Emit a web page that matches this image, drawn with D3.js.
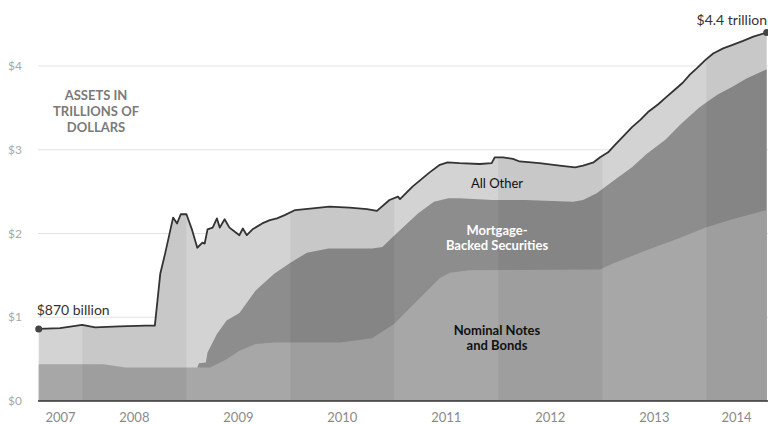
<!DOCTYPE html>
<html lang="en">

<head>
    <meta charset="UTF-8">
    <title>Fed balance sheet</title>
    <style>
        body {
            margin: 0;
            overflow: hidden;
            background: #fff;
        }

        svg {
            display: block;
        }

        text {
            font-family: Lato, "Open Sans", sans-serif;
        }
    </style>
</head>

<body>
    <svg></svg>

    <script src="https://d3js.org/d3.v7.min.js"></script>
    <script>
        // total assets (top line)
        const totalDates = ["2007-08-01", "2007-10-15", "2008-01-01", "2008-02-15", "2008-05-10", "2008-08-10",
            "2008-09-12", "2008-10-01", "2008-10-18", "2008-11-15", "2008-11-29", "2008-12-12", "2009-01-01",
            "2009-01-21", "2009-02-08", "2009-02-26", "2009-03-06", "2009-03-16", "2009-04-03", "2009-04-18",
            "2009-04-28", "2009-05-15", "2009-06-01", "2009-06-20", "2009-07-06", "2009-07-18", "2009-08-01",
            "2009-08-21", "2009-09-24", "2009-10-21", "2009-11-15", "2009-12-12", "2010-01-18", "2010-03-20",
            "2010-05-18", "2010-07-28", "2010-09-27", "2010-11-01", "2010-12-15", "2011-01-14", "2011-01-21",
            "2011-03-06", "2011-05-05", "2011-06-10", "2011-07-07", "2011-08-18", "2011-10-28", "2011-12-09",
            "2011-12-20", "2012-01-18", "2012-02-22", "2012-03-16", "2012-05-25", "2012-08-04", "2012-09-27",
            "2012-10-25", "2012-12-01", "2012-12-24", "2013-01-21", "2013-02-15", "2013-03-15", "2013-04-15",
            "2013-05-15", "2013-06-10", "2013-07-15", "2013-08-10", "2013-09-10", "2013-10-10", "2013-11-05",
            "2013-12-01", "2013-12-28", "2014-01-25", "2014-03-01", "2014-04-01", "2014-05-10", "2014-06-15",
            "2014-08-01"];
        const totalValues = [0.86, 0.87, 0.91, 0.88, 0.89, 0.90,
            0.90, 1.52, 1.76, 2.19, 2.12, 2.23, 2.23,
            2.04, 1.83, 1.89, 1.88, 2.05, 2.07, 2.18,
            2.07, 2.17, 2.07, 2.02, 1.98, 2.06, 1.98,
            2.05, 2.12, 2.16, 2.18, 2.22, 2.28, 2.30,
            2.32, 2.31, 2.29, 2.27, 2.40, 2.44, 2.41,
            2.56, 2.73, 2.82, 2.85, 2.84, 2.83, 2.84,
            2.91, 2.91, 2.89, 2.86, 2.84, 2.81, 2.79,
            2.81, 2.85, 2.91, 2.97, 3.06, 3.16, 3.27,
            3.36, 3.45, 3.54, 3.62, 3.71, 3.80, 3.90,
            3.98, 4.07, 4.15, 4.21, 4.25, 4.30, 4.35,
            4.40];

        // nominal notes and bonds + mortgage-backed securities (top of MBS layer)
        const mbsDates = ["2009-02-08", "2009-02-14", "2009-03-10", "2009-03-16", "2009-04-18", "2009-05-22",
            "2009-07-06", "2009-09-01", "2009-11-05", "2010-01-01", "2010-02-28", "2010-05-15", "2010-10-15",
            "2010-11-20", "2011-01-15", "2011-03-25", "2011-05-20", "2011-07-10", "2011-08-18", "2011-12-12",
            "2012-04-05", "2012-09-20", "2012-10-25", "2012-12-12", "2013-02-05", "2013-04-15", "2013-06-05",
            "2013-08-10", "2013-10-01", "2013-12-05", "2014-01-03", "2014-02-10", "2014-04-01", "2014-05-22",
            "2014-08-01"];
        const mbsValues = [0.40, 0.45, 0.46, 0.58, 0.80, 0.96,
            1.05, 1.32, 1.52, 1.65, 1.77, 1.82, 1.82,
            1.84, 2.02, 2.24, 2.38, 2.42, 2.42, 2.40,
            2.40, 2.38, 2.40, 2.48, 2.62, 2.79, 2.95,
            3.12, 3.30, 3.50, 3.57, 3.66, 3.75, 3.85,
            3.96];

        // nominal notes and bonds
        const nominalDates = ["2007-08-01", "2008-03-15", "2008-06-01", "2009-03-25", "2009-05-22", "2009-07-06",
            "2009-09-01", "2009-11-05", "2010-06-25", "2010-10-15", "2010-12-31", "2011-04-01", "2011-06-10",
            "2011-07-15", "2011-09-20", "2012-12-24", "2013-02-05", "2013-06-05", "2013-10-01", "2013-12-28",
            "2014-03-24", "2014-08-01"];
        const nominalValues = [0.44, 0.44, 0.40, 0.40, 0.50, 0.60,
            0.68, 0.70, 0.70, 0.75, 0.92, 1.23, 1.47,
            1.53, 1.56, 1.57, 1.64, 1.80, 1.95, 2.07,
            2.16, 2.28];

        const yTicks = [0, 1, 2, 3, 4];
        const years = [2007, 2008, 2009, 2010, 2011, 2012, 2013, 2014];

        const width = 768;
        const height = 424;
        const parse = d3.timeParse("%Y-%m-%d");

        const toPoints = (dates, values) => dates.map((d, i) => ({ date: parse(d), value: values[i] }));
        const total = toPoints(totalDates, totalValues);
        const mbs = toPoints(mbsDates, mbsValues);
        const nominal = toPoints(nominalDates, nominalValues);

        const start = parse("2007-08-01");
        const end = parse("2014-08-01");

        const x = d3.scaleTime()
            .domain([start, end])
            .range([38.7, 766.7]);

        const y = d3.scaleLinear()
            .domain([0, 4])
            .range([401, 66]);

        const svg = d3.select("svg")
            .attr("width", width)
            .attr("height", height);

        // gridlines
        svg.append("g")
            .selectAll("line")
            .data(yTicks.filter(d => d > 0))
            .join("line")
            .attr("x1", 38)
            .attr("x2", 768)
            .attr("y1", d => y(d))
            .attr("y2", d => y(d))
            .attr("stroke", "#e2e2e2")
            .attr("stroke-width", 1);

        // y tick labels
        svg.append("g")
            .selectAll("text")
            .data(yTicks)
            .join("text")
            .attr("x", 8)
            .attr("y", d => y(d))
            .attr("dy", "0.35em")
            .style("font-size", "12px")
            .style("fill", "#a8a8a8")
            .text(d => `$${d}`);

        const area = d3.area()
            .x(d => x(d.date))
            .y0(y(0))
            .y1(d => y(d.value));

        // layers painted on top of each other, from the total down
        svg.append("path")
            .datum(total)
            .attr("d", area)
            .attr("fill", "#d3d3d3");

        svg.append("path")
            .datum(mbs)
            .attr("d", area)
            .attr("fill", "#8d8d8d");

        svg.append("path")
            .datum(nominal)
            .attr("d", area)
            .attr("fill", "#a7a7a7");

        // slightly darker band on even years, only under the total
        svg.append("clipPath")
            .attr("id", "under")
            .append("path")
            .datum(total)
            .attr("d", area);

        svg.append("g")
            .attr("clip-path", "url(#under)")
            .selectAll("rect")
            .data(years.filter(d => d % 2 === 0))
            .join("rect")
            .attr("x", d => x(new Date(d, 0, 1)))
            .attr("width", d => x(new Date(d + 1, 0, 1)) - x(new Date(d, 0, 1)))
            .attr("y", 0)
            .attr("height", y(0))
            .attr("fill", "#000")
            .attr("fill-opacity", 0.05);

        // total line
        svg.append("path")
            .datum(total)
            .attr("d", d3.line().x(d => x(d.date)).y(d => y(d.value)))
            .attr("fill", "none")
            .attr("stroke", "#333")
            .attr("stroke-width", 1.8)
            .attr("stroke-linejoin", "round");

        // baseline
        svg.append("line")
            .attr("x1", 38)
            .attr("x2", 768)
            .attr("y1", y(0))
            .attr("y2", y(0))
            .attr("stroke", "#333")
            .attr("stroke-width", 1.5);

        // end dots
        const ends = [total[0], total[total.length - 1]];
        svg.append("g")
            .selectAll("circle")
            .data(ends)
            .join("circle")
            .attr("cx", d => x(d.date))
            .attr("cy", d => y(d.value))
            .attr("r", 3.5)
            .attr("fill", "#444");

        svg.append("text")
            .attr("x", x(total[0].date) - 2)
            .attr("y", y(total[0].value) - 14)
            .style("font-size", "14px")
            .style("fill", "#333")
            .text("$870 billion");

        svg.append("text")
            .attr("x", 767)
            .attr("y", 25)
            .attr("text-anchor", "end")
            .style("font-size", "14px")
            .style("fill", "#333")
            .text("$4.4 trillion");

        // x labels, centred in the visible part of each year
        svg.append("g")
            .selectAll("text")
            .data(years)
            .join("text")
            .attr("x", d => {
                const a = Math.max(x(new Date(d, 0, 1)), x(start));
                const b = Math.min(x(new Date(d + 1, 0, 1)), x(end));
                return (a + b) / 2;
            })
            .attr("y", 422)
            .attr("text-anchor", "middle")
            .style("font-size", "13px")
            .style("fill", "#8a8a8a")
            .text(d => d);

        // block labels
        const multi = (lines, cx, cy, lh, size, weight, color) => {
            svg.append("text")
                .attr("text-anchor", "middle")
                .style("font-size", size)
                .style("font-weight", weight)
                .style("fill", color)
                .selectAll("tspan")
                .data(lines)
                .join("tspan")
                .attr("x", cx)
                .attr("y", (d, i) => cy + i * lh)
                .text(d => d);
        };

        multi(["ASSETS IN", "TRILLIONS OF", "DOLLARS"], 96, 100, 16, "13px", "bold", "#7a7a7a");
        multi(["All Other"], 497, 188, 15, "13px", "normal", "#111");
        multi(["Mortgage-", "Backed Securities"], 497, 235, 15, "13px", "bold", "#fff");
        multi(["Nominal Notes", "and Bonds"], 497, 335, 15, "13px", "bold", "#111");
    </script>
</body>

</html>
